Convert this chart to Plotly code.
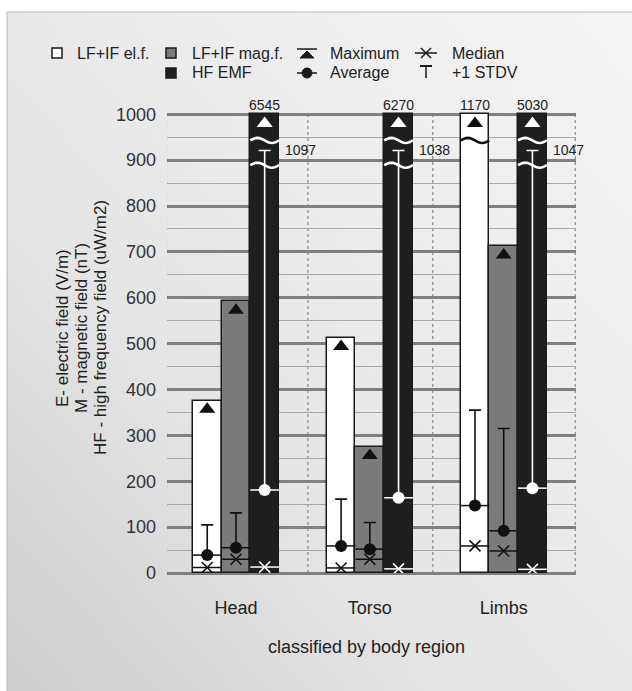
import base64
import numpy as np
import plotly.graph_objects as go

# ---------------- data ----------------
regions = ["Head", "Torso", "Limbs"]

el_max = [376, 513, 1170]
el_avg = [39, 59, 147]
el_med = [12, 11, 59]
el_std = [105, 161, 355]

mag_max = [592, 275, 712]
mag_avg = [55, 52, 92]
mag_med = [30, 30, 48]
mag_std = [131, 110, 315]

hf_max = [6545, 6270, 5030]
hf_avg = [181, 164, 185]
hf_med = [13, 9, 8]
hf_std = [1097, 1038, 1047]

series = [
    dict(name="LF+IF el.f.", mx=el_max, avg=el_avg, med=el_med, std=el_std,
         fill="#ffffff", mark="#111111", off=-1),
    dict(name="LF+IF mag.f.", mx=mag_max, avg=mag_avg, med=mag_med, std=mag_std,
         fill="#7b7b7b", mark="#111111", off=0),
    dict(name="HF EMF", mx=hf_max, avg=hf_avg, med=hf_med, std=hf_std,
         fill="#1f1f1f", mark="#ffffff", off=1),
]

# ---------------- geometry / style ----------------
W, H = 632, 691
L, R, T, B = 167, 576, 112, 573
PW, PH = R - L, B - T
YTOP = 1000          # axis cut
BREAK_BAR = 943      # wave level for bars beyond the axis
BREAK_STD = 889      # wave level for whiskers beyond the axis
STD_CAP = 921        # drawn level of whisker caps beyond the axis
TRI_OFF = 19
BW = 0.2145          # bar width (category units)
FONT = "Liberation Sans, Arial, sans-serif"


def px2x(px):
    return (px - L) / PW


def py2y(py):
    return (B - py) / PH


fig = go.Figure()

# background gradient
svg = (
    '<svg xmlns="http://www.w3.org/2000/svg" width="100" height="100" preserveAspectRatio="none">'
    '<defs><linearGradient id="g" x1="0" y1="1" x2="1" y2="0">'
    '<stop offset="0" stop-color="#cdcdcd"/>'
    '<stop offset="0.35" stop-color="#e4e4e4"/>'
    '<stop offset="0.7" stop-color="#eeeeee"/>'
    '<stop offset="1" stop-color="#f4f4f4"/>'
    '</linearGradient></defs>'
    '<rect width="100" height="100" fill="url(#g)"/></svg>'
)
src = "data:image/svg+xml;base64," + base64.b64encode(svg.encode()).decode()
fig.add_layout_image(dict(source=src, xref="paper", yref="paper",
                          x=px2x(7), y=py2y(12), sizex=(W - 7) / PW, sizey=(H - 12) / PH,
                          xanchor="left", yanchor="top", sizing="stretch", layer="below"))

shapes = []
annotations = []

# frame
shapes.append(dict(type="rect", xref="paper", yref="paper",
                   x0=px2x(7), x1=px2x(W + 20), y0=py2y(12), y1=py2y(H + 20),
                   line=dict(color="#b8b8b8", width=1), fillcolor="rgba(0,0,0,0)", layer="below"))

# dotted category separators
for xs in [-0.52, 0.537, 1.47, 2.535]:
    shapes.append(dict(type="line", xref="x", yref="paper", x0=xs, x1=xs, y0=0, y1=py2y(114),
                       line=dict(color="#9a9a9a", width=1.5, dash="dot"), layer="below"))


def wave(xc, y0, color, width=2.6):
    t = np.linspace(0, 1, 17)
    xs = xc - BW / 2 + BW * t
    ys = y0 + 5.5 * np.sin(2 * np.pi * t)
    path = "M " + " L ".join(f"{a:.4f},{b:.2f}" for a, b in zip(xs, ys))
    return dict(type="path", xref="x", yref="y", path=path,
                line=dict(color=color, width=width), layer="above")


for s in series:
    xc = [i + s["off"] * BW for i in range(len(regions))]
    mx_disp = [min(v, YTOP) for v in s["mx"]]
    std_disp = [v if v <= YTOP else STD_CAP for v in s["std"]]
    tri_y = [v - TRI_OFF if v < YTOP else YTOP - 20 for v in mx_disp]

    fig.add_trace(go.Bar(x=xc, y=mx_disp, width=BW, name=s["name"],
                         marker=dict(color=s["fill"], line=dict(color="#1a1a1a", width=1.5)),
                         showlegend=False, hoverinfo="skip"))

    # horizontal lines across bar at average and median
    lx, ly = [], []
    for x, a, m in zip(xc, s["avg"], s["med"]):
        lx += [x - BW / 2, x + BW / 2, None, x - BW / 2, x + BW / 2, None]
        ly += [a, a, None, m, m, None]
    fig.add_trace(go.Scatter(x=lx, y=ly, mode="lines",
                             line=dict(color=s["mark"], width=1.5),
                             showlegend=False, hoverinfo="skip"))

    # +1 STDV whiskers and averages
    fig.add_trace(go.Scatter(
        x=xc, y=s["avg"], mode="markers",
        marker=dict(symbol="circle", size=12, color=s["mark"]),
        error_y=dict(type="data", symmetric=False,
                     array=[d - a for d, a in zip(std_disp, s["avg"])],
                     arrayminus=[0] * len(xc), color=s["mark"], thickness=1.6, width=6),
        showlegend=False, hoverinfo="skip"))

    # medians
    fig.add_trace(go.Scatter(x=xc, y=s["med"], mode="markers",
                             marker=dict(symbol="x-thin", size=11,
                                         line=dict(color=s["mark"], width=1.6)),
                             showlegend=False, hoverinfo="skip"))

    # maxima
    fig.add_trace(go.Scatter(x=xc, y=tri_y, mode="markers",
                             marker=dict(symbol="triangle-up", size=14, color=s["mark"]),
                             showlegend=False, hoverinfo="skip"))

    for x, v, st in zip(xc, s["mx"], s["std"]):
        if v > YTOP:
            shapes.append(wave(x, BREAK_BAR, s["mark"]))
            annotations.append(dict(x=x, y=YTOP, xref="x", yref="y", text=str(v),
                                    showarrow=False, yanchor="bottom", yshift=-1,
                                    font=dict(size=14, color="#222", family=FONT)))
        if st > YTOP:
            shapes.append(wave(x, BREAK_STD, s["mark"]))
            annotations.append(dict(x=x + BW / 2, y=STD_CAP, xref="x", yref="y", text=str(st),
                                    showarrow=False, xanchor="left", xshift=4, yshift=1,
                                    font=dict(size=14, color="#222", family=FONT)))

# ---------------- manual legend ----------------
def sq(x0, y0, size, fill):
    return dict(type="rect", xref="paper", yref="paper",
                x0=px2x(x0), x1=px2x(x0 + size), y0=py2y(y0 + size), y1=py2y(y0),
                fillcolor=fill, line=dict(color="#1a1a1a", width=1.5))


def ln(x0, y0, x1, y1, w=1.5):
    return dict(type="line", xref="paper", yref="paper",
                x0=px2x(x0), x1=px2x(x1), y0=py2y(y0), y1=py2y(y1),
                line=dict(color="#1a1a1a", width=w))


shapes.append(sq(52, 48, 10, "#ffffff"))
shapes.append(sq(166, 48, 10, "#7b7b7b"))
shapes.append(sq(166, 68, 10, "#1f1f1f"))
# Maximum icon
shapes.append(ln(297, 49, 317, 49))
shapes.append(dict(type="path", xref="paper", yref="paper",
                   path=f"M {px2x(300)},{py2y(58)} L {px2x(314)},{py2y(58)} L {px2x(307)},{py2y(51)} Z",
                   fillcolor="#1a1a1a", line=dict(color="#1a1a1a", width=1)))
# Average icon
shapes.append(ln(297, 73, 317, 73))
shapes.append(dict(type="circle", xref="paper", yref="paper",
                   x0=px2x(302), x1=px2x(312), y0=py2y(78), y1=py2y(68),
                   fillcolor="#1a1a1a", line=dict(color="#1a1a1a", width=1)))
# Median icon
shapes.append(ln(415, 53, 437, 53))
shapes.append(ln(421, 48, 431, 58))
shapes.append(ln(421, 58, 431, 48))
# STDV icon
shapes.append(ln(420, 66, 432, 66, 2))
shapes.append(ln(426, 66, 426, 78))

for (x, y, t) in [(75, 53, "LF+IF el.f."), (190, 53, "LF+IF mag.f."), (190, 73, "HF EMF"),
                  (328, 53, "Maximum"), (328, 73, "Average"),
                  (450, 53, "Median"), (450, 73, "+1 STDV")]:
    annotations.append(dict(x=px2x(x), y=py2y(y), xref="paper", yref="paper", text=t,
                            showarrow=False, xanchor="left", yanchor="middle",
                            font=dict(size=16, color="#222", family=FONT)))

# y-axis title (three rotated lines)
for x, t in [(62, "E- electric field (V/m)"), (81, "M - magnetic field (nT)"),
             (100, "HF - high frequency field (uW/m2)")]:
    annotations.append(dict(x=px2x(x), y=py2y(328), xref="paper", yref="paper", text=t,
                            showarrow=False, textangle=-90, xanchor="center", yanchor="middle",
                            font=dict(size=17, color="#222", family=FONT)))

# x-axis title
annotations.append(dict(x=px2x(366), y=py2y(647), xref="paper", yref="paper",
                        text="classified by body region", showarrow=False,
                        xanchor="center", yanchor="middle",
                        font=dict(size=18, color="#222", family=FONT)))

fig.update_layout(
    width=W, height=H,
    margin=dict(l=L, r=W - R, t=T, b=H - B, pad=0),
    paper_bgcolor="#ffffff", plot_bgcolor="rgba(0,0,0,0)",
    barmode="overlay", bargap=0,
    font=dict(family=FONT, color="#222"),
    showlegend=False,
    shapes=shapes, annotations=annotations,
    xaxis=dict(range=[-0.515, 2.54], tickvals=list(range(len(regions))), ticktext=regions,
               showgrid=False, zeroline=False, showline=False, ticks="",
               tickfont=dict(size=18, color="#222", family=FONT), ticklabelstandoff=22,
               fixedrange=True),
    yaxis=dict(range=[0, 1005], tickvals=list(range(0, 1001, 100)),
               showgrid=True, gridcolor="#808080", gridwidth=2.5,
               zeroline=True, zerolinecolor="#808080", zerolinewidth=2.5,
               minor=dict(tickvals=list(range(50, 1000, 100)), showgrid=True,
                          gridcolor="#a8a8a8", gridwidth=1),
               showline=False, ticks="", ticklabelstandoff=10,
               tickfont=dict(size=18, color="#333", family=FONT), fixedrange=True),
)

fig.write_html("out.html")
